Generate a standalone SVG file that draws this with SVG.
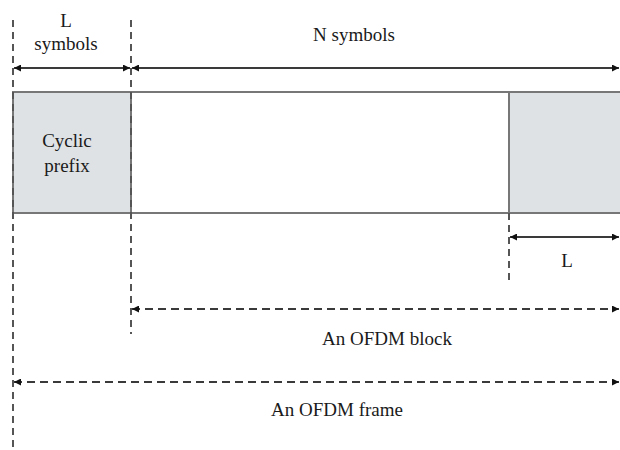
<svg xmlns="http://www.w3.org/2000/svg" width="620" height="450" viewBox="0 0 620 450">
<defs>
<marker id="ah" viewBox="0 0 10 10" refX="10" refY="5" markerWidth="8" markerHeight="7" orient="auto-start-reverse" markerUnits="userSpaceOnUse">
<path d="M0,0 L10,5 L0,10 Z" fill="#111"/>
</marker>
<style>
text{font-family:"Liberation Serif","Times New Roman",serif;font-size:19px;fill:#1a1a1a;text-anchor:middle}
.guide{stroke:#555;stroke-width:2;stroke-dasharray:7,5;fill:none}
.solid{stroke:#3a3a3a;stroke-width:2.2;fill:none;marker-start:url(#ah);marker-end:url(#ah)}
.dash{stroke:#3a3a3a;stroke-width:2.2;stroke-dasharray:8,5;fill:none;marker-start:url(#ah);marker-end:url(#ah)}
.box{fill:#dfe2e5;stroke:#777;stroke-width:2}
</style>
</defs>
<rect width="620" height="450" fill="#fff"/>
<g id="ofdm-body">
<rect x="131" y="92" width="490" height="121" fill="#fff" stroke="#777" stroke-width="2"/>
</g>
<g id="cyclic-prefix">
<rect class="box" x="13" y="92" width="118" height="121"/>
<text x="67" y="147">Cyclic</text>
<text x="67" y="172">prefix</text>
</g>
<g id="tail">
<rect class="box" x="509" y="92" width="112" height="121"/>
</g>
<g id="connectors">
<line class="guide" x1="13" y1="20" x2="13" y2="450"/>
<line class="guide" x1="131" y1="20" x2="131" y2="334"/>
<line class="guide" x1="509" y1="213" x2="509" y2="281"/>
<line class="solid" x1="14" y1="68" x2="130" y2="68"/>
<line class="solid" x1="132" y1="68" x2="619" y2="68"/>
<line class="solid" x1="510" y1="237" x2="619" y2="237"/>
<line class="dash" x1="132" y1="309" x2="619" y2="309"/>
<line class="dash" x1="14" y1="382" x2="619" y2="382"/>
</g>
<g id="labels">
<text x="66" y="27">L</text>
<text x="66" y="50">symbols</text>
<text x="354" y="41">N symbols</text>
<text x="567" y="267">L</text>
<text x="387" y="345">An OFDM block</text>
<text x="337" y="416">An OFDM frame</text>
</g>
</svg>
